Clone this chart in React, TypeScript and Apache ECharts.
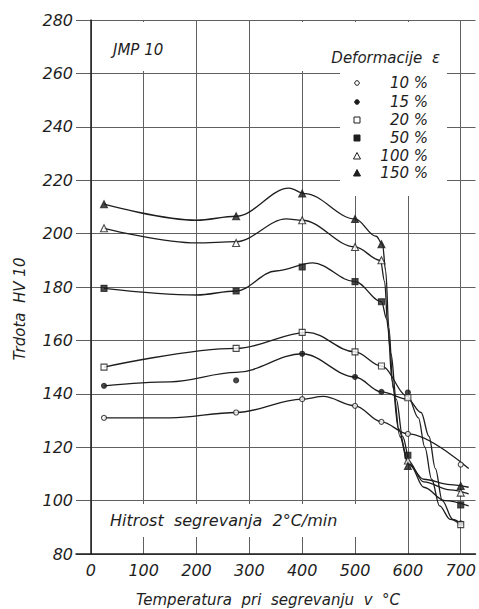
import React, { useEffect, useRef } from "react";
import * as echarts from "echarts";

// ---- data ----
const deformations = [10, 15, 20, 50, 100, 150];
const legendLabels = ["10 %", "15 %", "20 %", "50 %", "100 %", "150 %"];
const temps = [25, 275, 400, 500, 550, 600, 700];
const xTicks = [0, 100, 200, 300, 400, 500, 600, 700];

// measured hardness (markers)
const hv10 = [131, 133, 138, 135.5, 129.5, 125, 113.5];
const hv15 = [143, 145, 155, 146.3, 140.7, 140.5, 91.5];
const hv20 = [150, 157, 163, 155.7, 150.4, 138.5, 91];
const hv50 = [179.5, 178.5, 187.5, 182, 174.5, 117, 98.4];
const hv100 = [202, 196.5, 205, 195, 190, 115, 103];
const hv150 = [211, 206.5, 215, 205.5, 196, 113, 105.5];

// hand-drawn fitted curves
const c10x = [25, 150, 275, 400, 440, 500, 550, 600, 715];
const c10y = [131, 131, 133, 138, 139, 135.5, 129.5, 125, 112];
const c15x = [25, 150, 275, 400, 500, 550, 600, 625, 640, 652, 665, 685, 700];
const c15y = [143, 144.5, 148, 155, 146.3, 140.7, 138, 133, 124, 112, 100, 93, 91.5];
const c20x = [25, 275, 410, 500, 550, 600, 620, 632, 645, 660, 680, 700];
const c20y = [150, 157, 163, 155.7, 150.4, 139, 131, 120, 108, 98, 93, 91];
const c50x = [25, 200, 275, 350, 420, 500, 550, 560, 568, 578, 590, 605, 630, 670, 715];
const c50y = [179.5, 177, 178.5, 186, 189, 182, 174.5, 168, 155, 138, 124, 113, 105, 100, 98];
const c100x = [25, 200, 275, 370, 400, 500, 548, 556, 562, 570, 582, 600, 630, 680, 715];
const c100y = [202, 196.5, 197, 205.5, 205, 195, 190, 182, 165, 145, 127, 115, 107, 104, 102.5];
const c150x = [25, 200, 275, 375, 405, 500, 540, 552, 558, 564, 572, 585, 600, 630, 680, 715];
const c150y = [211, 205, 206.5, 217, 215, 205.5, 199, 196, 186, 165, 142, 124, 114, 108, 106, 105];

const markerData = [hv10, hv15, hv20, hv50, hv100, hv150];
const curveX = [c10x, c15x, c20x, c50x, c100x, c150x];
const curveY = [c10y, c15y, c20y, c50y, c100y, c150y];
const symbols = ["circle", "circle", "rect", "rect", "triangle", "triangle"];
const filled = [false, true, false, true, false, true];

const INK = "#1e1e1e";
const FONT = "DejaVu Sans";

export default function App() {
  const ref = useRef<HTMLDivElement>(null);
  useEffect(() => {
    if (!ref.current) return;
    const chart = echarts.init(ref.current, undefined, { renderer: "svg" });

    const series: any[] = [];
    deformations.forEach((d, i) => {
      series.push({
        name: d + " % curve",
        type: "line",
        data: curveX[i].map((x, j) => [x, curveY[i][j]]),
        smooth: 0.35,
        smoothMonotone: "x",
        symbol: "none",
        lineStyle: { color: INK, width: 1.3 },
        z: 2,
        silent: true,
      });
      series.push({
        name: d + " %",
        type: "scatter",
        data: temps.map((t, j) => [t, markerData[i][j]]),
        symbol: symbols[i],
        symbolSize: symbols[i] === "circle" ? 5 : symbols[i] === "rect" ? 6 : 7,
        itemStyle: {
          color: filled[i] ? INK : "#ffffff",
          borderColor: INK,
          borderWidth: 1.1,
        },
        z: 3,
      });
    });

    const legendRows = [83, 102, 120, 138, 156, 173];
    const legendGraphics: any[] = [];
    deformations.forEach((d, i) => {
      const cy = legendRows[i];
      const cx = 357;
      const st = { fill: filled[i] ? INK : "#fff", stroke: INK, lineWidth: 1 };
      if (symbols[i] === "circle") {
        legendGraphics.push({ type: "circle", shape: { cx, cy, r: 2.3 }, style: st, z: 5 });
      } else if (symbols[i] === "rect") {
        legendGraphics.push({ type: "rect", shape: { x: cx - 3, y: cy - 3, width: 6, height: 6 }, style: st, z: 5 });
      } else {
        legendGraphics.push({
          type: "polygon",
          shape: { points: [[cx, cy - 3.5], [cx + 3.5, cy + 3], [cx - 3.5, cy + 3]] },
          style: st,
          z: 5,
        });
      }
      legendGraphics.push({
        type: "text",
        x: 428,
        y: cy,
        style: {
          text: legendLabels[i],
          fill: INK,
          font: `italic 15px "${FONT}"`,
          textAlign: "right",
          textVerticalAlign: "middle",
        },
        z: 5,
      });
    });

    chart.setOption({
      animation: false,
      backgroundColor: "#ffffff",
      grid: { left: 76, top: 20, right: 0, bottom: 55 },
      xAxis: {
        type: "value",
        min: -28,
        max: 728,
        axisLine: { show: true, lineStyle: { color: INK, width: 1.5 } },
        axisTick: { show: false, customValues: xTicks },
        axisLabel: {
          customValues: xTicks,
          fontSize: 16,
          fontStyle: "italic",
          fontFamily: FONT,
          color: INK,
          margin: 8,
        },
        splitLine: { show: true, lineStyle: { color: "#606060", width: 1 } },
      },
      yAxis: {
        type: "value",
        min: 80,
        max: 280,
        interval: 20,
        axisLine: { show: true, lineStyle: { color: INK, width: 1.5 } },
        axisTick: { show: false },
        axisLabel: {
          fontSize: 16,
          fontStyle: "italic",
          fontFamily: FONT,
          color: INK,
          margin: 3,
        },
        splitLine: { show: true, lineStyle: { color: "#606060", width: 1 } },
      },
      graphic: [
        { type: "rect", shape: { x: 100, y: 22, width: 90, height: 49 }, style: { fill: "#fff" }, z: 1 },
        { type: "rect", shape: { x: 300, y: 22, width: 147, height: 49 }, style: { fill: "#fff" }, z: 1 },
        { type: "rect", shape: { x: 340, y: 71, width: 107, height: 125 }, style: { fill: "#fff" }, z: 1 },
        { type: "rect", shape: { x: 100, y: 504, width: 295, height: 33 }, style: { fill: "#fff" }, z: 1 },
        {
          type: "text", x: 113, y: 50, z: 5,
          style: { text: "JMP 10", fill: INK, font: `italic 15px "${FONT}"`, textAlign: "left", textVerticalAlign: "middle" },
        },
        {
          type: "text", x: 440, y: 58, z: 5,
          style: { text: "Deformacije  ε", fill: INK, font: `italic 15px "${FONT}"`, textAlign: "right", textVerticalAlign: "middle" },
        },
        {
          type: "text", x: 110, y: 520, z: 5,
          style: { text: "Hitrost  segrevanja  2°C/min", fill: INK, font: `italic 16px "${FONT}"`, textAlign: "left", textVerticalAlign: "middle" },
        },
        {
          type: "text", x: 268, y: 600, z: 5,
          style: { text: "Temperatura  pri  segrevanju  v  °C", fill: INK, font: `italic 15px "${FONT}"`, textAlign: "center", textVerticalAlign: "middle" },
        },
        {
          type: "text", x: 20, y: 309, rotation: Math.PI / 2, z: 5,
          style: { text: "Trdota  HV 10", fill: INK, font: `italic 15px "${FONT}"`, textAlign: "center", textVerticalAlign: "middle" },
        },
        ...legendGraphics,
      ],
      series,
    });
    return () => chart.dispose();
  }, []);
  return (
    <div
      ref={ref}
      style={{ position: "absolute", left: 0, top: 0, width: 479, height: 609 }}
    />
  );
}
